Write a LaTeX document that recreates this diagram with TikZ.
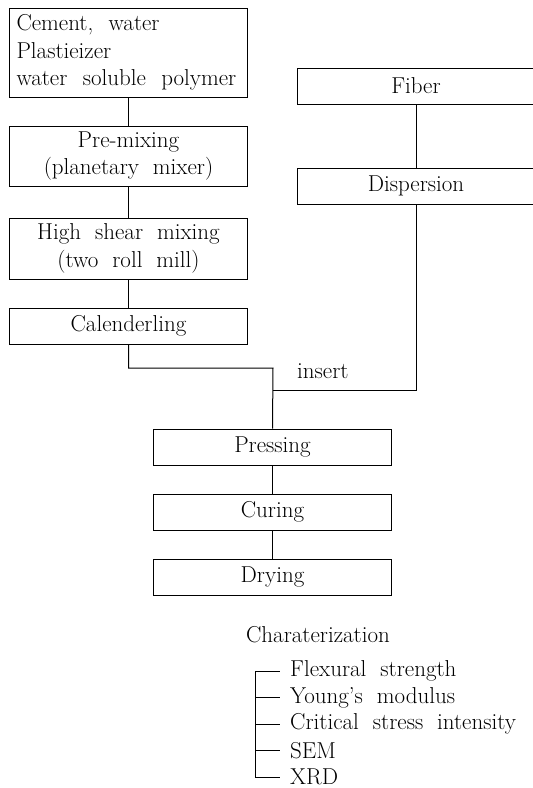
\documentclass[tikz,border=0pt]{standalone}
\usetikzlibrary{positioning}

\tikzset{
  procbox/.style={draw, line width=1pt, minimum width=238pt, minimum height=36pt, inner sep=0pt, align=center},
  link/.style={line width=1pt},
  item/.style={anchor=west, inner sep=0pt, inner xsep=10pt},
}

\begin{document}
\begin{tikzpicture}[x=1pt, y=-1pt, font=\fontsize{23}{27.5}\selectfont, node distance=28pt]
\useasboundingbox (0,0) rectangle (533,788);

% left branch
\node[procbox, minimum height=89pt, text width=224pt, align=left] (mat) at (128.5,52.5)
  {Cement,\ \ water\\ Plastieizer\\ water\ \ soluble\ \ polymer};
\node[procbox, minimum height=60pt] (premix) [below=of mat] {Pre-mixing\\ (planetary\ \ mixer)};
\node[procbox, minimum height=61pt] (shear) [below=31pt of premix] {High\ \ shear\ \ mixing\\ (two\ \ roll\ \ mill)};
\node[procbox] (calend) [below=of shear] {Calenderling};

% right branch
\node[procbox] (fiber) at (416,86) {Fiber};
\node[procbox] (disp) [below=63pt of fiber] {Dispersion};

% after insert
\node[procbox] (press) at (272.5,447) {Pressing};
\node[procbox] (cure) [below=of press] {Curing};
\node[procbox] (dry) [below=of cure] {Drying};

\coordinate (bend) at (273,368);
\coordinate (merge) at (273,390);
\node[anchor=west, inner sep=0pt] (ins) at (297,371) {insert};

\draw[link] (mat) -- (premix);
\draw[link] (premix) -- (shear);
\draw[link] (shear) -- (calend);
\draw[link] (fiber) -- (disp);
\draw[link] (calend.south) |- (bend) -- (press.north);
\draw[link] (disp.south) |- (merge);
\draw[link] (press) -- (cure);
\draw[link] (cure) -- (dry);

% tests
\node (char) at (318,635) {Charaterization};
\coordinate (spine) at (255,671);
\foreach \name/\txt [count=\i] in {flex/Flexural\ \ strength, young/Young's\ \ modulus,
    crit/Critical\ \ stress\ \ intensity, sem/SEM, xrd/XRD} {
  \node[item] (\name) at (280,644.5+26.5*\i) {\txt};
  \draw[link] (spine) |- (\name.west);
}
\end{tikzpicture}
\end{document}
